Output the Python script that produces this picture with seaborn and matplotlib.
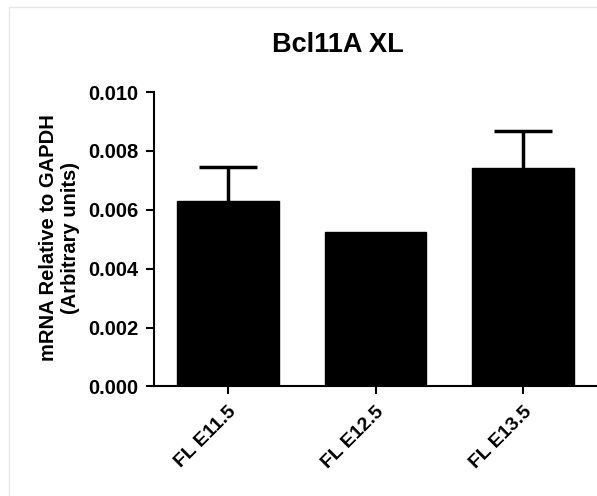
import numpy as np
import pandas as pd
import matplotlib
matplotlib.use("Agg")
import matplotlib.pyplot as plt
from matplotlib.lines import Line2D
from matplotlib.ticker import FormatStrFormatter
import seaborn as sns

# veriler
groups = ["FL E11.5", "FL E12.5", "FL E13.5"]
means = [0.0063, 0.00525, 0.00742]
errors = [0.00115, 0.0, 0.00127]

title = "Bcl11A XL"
ylabel = "mRNA Relative to GAPDH\n(Arbitrary units)"

sns.set_style("ticks")
plt.rcParams["font.family"] = ["Liberation Sans", "DejaVu Sans"]
plt.rcParams["font.weight"] = "bold"
# seaborn yazilari koyu gri yapiyor, siyaha cevirelim
for key in ["text.color", "axes.labelcolor", "xtick.color", "ytick.color", "axes.edgecolor"]:
    plt.rcParams[key] = "black"

df = pd.DataFrame({"group": groups, "mean": means, "err": errors})

fig = plt.figure(figsize=(5.97, 4.96), dpi=100)
ax = fig.add_axes([0.258, 0.2208, 0.742, 0.5937])

sns.barplot(ax=ax, data=df, x="group", y="mean", color="black",
            saturation=1, width=0.69, errorbar=None, edgecolor="black")

# sadece yukari dogru hata cubuklari
has_err = df[df["err"] > 0]
xpos = [groups.index(g) for g in has_err["group"]]
eb = ax.errorbar(xpos, has_err["mean"], yerr=[np.zeros(len(has_err)), has_err["err"]],
                 fmt="none", ecolor="black", elinewidth=2.5, capsize=21, capthick=2.5)
# alttaki cap'i gizle
eb[1][0].set_visible(False)

ax.set_xlim(-0.5, 2.5)
ax.set_ylim(0, 0.010)
ax.set_yticks(np.arange(0, 0.0101, 0.002))
ax.yaxis.set_major_formatter(FormatStrFormatter("%.3f"))
ax.set_xlabel("")
ax.set_ylabel(ylabel, fontsize=14.5, fontweight="bold", linespacing=1.15, color="black")
ax.yaxis.set_label_coords(-0.168, 0.505)

sns.despine(ax=ax)
for s in ["left", "bottom"]:
    ax.spines[s].set_linewidth(1.5)
    ax.spines[s].set_color("black")
ax.tick_params(axis="both", width=1.5, length=6, color="black", labelcolor="black")
ax.tick_params(axis="y", labelsize=14.5, pad=5)
ax.tick_params(axis="x", labelsize=14, pad=6)
plt.setp(ax.get_xticklabels(), rotation=45, ha="right", rotation_mode="anchor", fontweight="bold")
plt.setp(ax.get_yticklabels(), fontweight="bold")

fig.text(0.566, 0.909, title, ha="center", va="center", fontsize=19.5, fontweight="bold", color="black")

# ekran goruntusu cercevesi
fig.add_artist(Line2D([9 / 597, 1], [1 - 7 / 496, 1 - 7 / 496], transform=fig.transFigure, color="#e6e6e6", lw=1))
fig.add_artist(Line2D([9 / 597, 9 / 597], [0, 1 - 7 / 496], transform=fig.transFigure, color="#e6e6e6", lw=1))

fig.savefig("out.png", dpi=100)
